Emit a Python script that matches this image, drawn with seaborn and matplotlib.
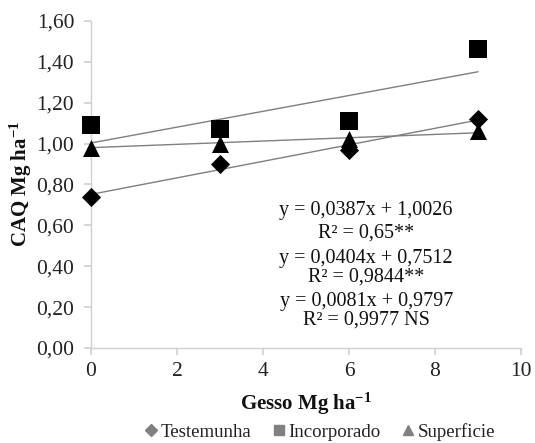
import numpy as np
import pandas as pd
import matplotlib
matplotlib.use("Agg")
import matplotlib.pyplot as plt
import seaborn as sns
from matplotlib.ticker import FuncFormatter, MultipleLocator
from matplotlib.lines import Line2D
from matplotlib.font_manager import FontProperties

# Data
gesso = [0, 3, 6, 9]
series = ["Testemunha", "Incorporado", "Superficie"]
testemunha = [0.74, 0.90, 0.97, 1.12]
incorporado = [1.09, 1.07, 1.11, 1.46]
superficie = [0.98, 1.00, 1.02, 1.06]
slopes = [0.0404, 0.0387, 0.0081]
intercepts = [0.7512, 1.0026, 0.9797]
equations = ["y = 0,0387x + 1,0026", "R² = 0,65**",
             "y = 0,0404x + 0,7512", "R² = 0,9844**",
             "y = 0,0081x + 0,9797", "R² = 0,9977 NS"]
eq_y = [0.673, 0.563, 0.439, 0.346, 0.229, 0.135]

sns.set_theme(style="white")
plt.rcParams["font.family"] = ["Liberation Serif", "DejaVu Serif"]
plt.rcParams["mathtext.fontset"] = "custom"
plt.rcParams["mathtext.rm"] = "Liberation Serif:bold"
plt.rcParams["mathtext.it"] = "Liberation Serif:bold"
plt.rcParams["mathtext.default"] = "rm"

rows = []
for name, vals in zip(series, [testemunha, incorporado, superficie]):
    for x, v in zip(gesso, vals):
        rows.append({"Gesso": x, "CAQ": v, "Serie": name})
df = pd.DataFrame(rows)

fit_rows = []
for name, a, b in zip(series, slopes, intercepts):
    for x in [gesso[0], gesso[-1]]:
        fit_rows.append({"Gesso": x, "CAQ": a * x + b, "Serie": name})
fit = pd.DataFrame(fit_rows)

fig = plt.figure(figsize=(5.35, 4.43), dpi=100)
ax = fig.add_axes([0.170, 0.2145, 0.804, 0.7385])

sns.lineplot(data=fit, x="Gesso", y="CAQ", units="Serie", estimator=None,
             color="#7f7f7f", linewidth=1.0, ax=ax, legend=False)

markers = {"Testemunha": "D", "Incorporado": "s", "Superficie": "^"}
sizes = {"Testemunha": 95, "Incorporado": 160, "Superficie": 150}
for name in series:
    sub = df[df["Serie"] == name]
    sns.scatterplot(data=sub, x="Gesso", y="CAQ", marker=markers[name],
                    s=sizes[name], color="black", edgecolor="black",
                    linewidth=0, ax=ax, legend=False, zorder=3, clip_on=False)

ax.set_xlim(0, 10)
ax.set_ylim(0, 1.6)
ax.xaxis.set_major_locator(MultipleLocator(2))
ax.yaxis.set_major_locator(MultipleLocator(0.2))
ax.yaxis.set_major_formatter(FuncFormatter(lambda v, p: f"{v:.2f}".replace(".", ",")))
ax.xaxis.set_major_formatter(FuncFormatter(lambda v, p: f"{v:.0f}"))

for side in ["top", "right"]:
    ax.spines[side].set_visible(False)
for side in ["left", "bottom"]:
    ax.spines[side].set_color("#d0d0d0")
    ax.spines[side].set_linewidth(1.0)
ax.tick_params(axis="both", which="major", length=5, color="#d0d0d0",
               labelsize=15.5, labelcolor="#222222", direction="out",
               bottom=True, left=True)
ax.tick_params(axis="y", pad=7)
ax.tick_params(axis="x", pad=5)
ax.grid(False)

ax.set_xlabel("Gesso Mg ha$^{-1}$", fontsize=15, fontweight="bold", color="#111111", labelpad=7)
ax.set_ylabel("CAQ Mg ha$^{-1}$", fontsize=15, fontweight="bold", color="#111111", labelpad=2)

for txt, yy in zip(equations, eq_y):
    ax.text(6.4, yy, txt, ha="center", va="center", fontsize=14.5, color="#111111")

handles = [Line2D([], [], marker=markers[n], color="#808080", linestyle="none",
                  markersize=6 if n == "Testemunha" else 7) for n in series]
fig.legend(handles, series, loc="center", bbox_to_anchor=(0.595, 0.025), ncol=3,
           frameon=False, prop=FontProperties(family="Liberation Serif", size=13.6),
           handletextpad=0.0, columnspacing=0.95, labelcolor="#222222",
           handlelength=1.0, borderaxespad=0)

fig.savefig("out.png", dpi=100)
